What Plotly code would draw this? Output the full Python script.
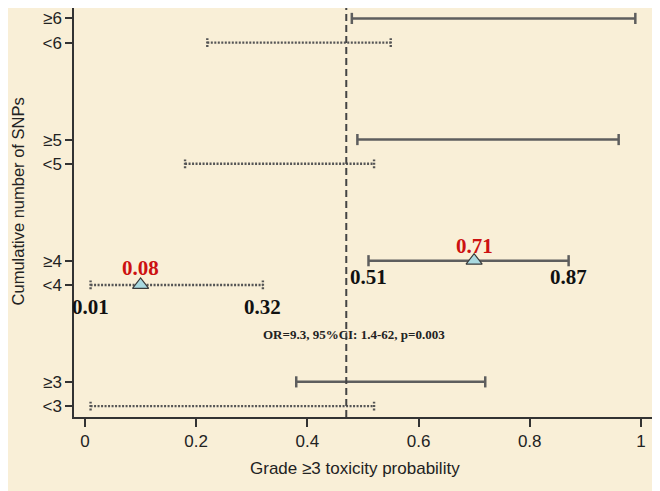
import plotly.graph_objects as go

# ---- data ----
groups = ["≥6", "<6", "≥5", "<5", "≥4", "<4", "≥3", "<3"]
ypos = [17, 16, 12, 11, 7, 6, 2, 1]
lower = [0.48, 0.22, 0.49, 0.18, 0.51, 0.01, 0.38, 0.01]
upper = [0.99, 0.55, 0.96, 0.52, 0.87, 0.32, 0.72, 0.52]

point_groups = ["≥4", "<4"]
point_est = [0.70, 0.10]
point_labels = ["0.71", "0.08"]
ci_label_groups = ["≥4", "<4"]
ci_lo_labels = ["0.51", "0.01"]
ci_hi_labels = ["0.87", "0.32"]

overall_rate = 0.47
stat_text = "OR=9.3, 95%CI: 1.4-62, p=0.003"
stat_x, stat_y = 0.484, 3.96

x_ticks = [0, 0.2, 0.4, 0.6, 0.8, 1]
x_ticklabels = ["0", "0.2", "0.4", "0.6", "0.8", "1"]

BG = "#f9efd7"
SANS = "Liberation Sans, Arial, sans-serif"
SERIF = "Liberation Serif, Times New Roman, serif"


def segments(sel, cap):
    xs, ys = [], []
    for g, y, lo, hi in zip(groups, ypos, lower, upper):
        if not sel(g):
            continue
        xs += [lo, hi, None, lo, lo, None, hi, hi, None]
        ys += [y, y, None, y - cap, y + cap, None, y - cap, y + cap, None]
    return xs, ys


fig = go.Figure()

sx, sy = segments(lambda g: g.startswith("≥"), 0.23)
fig.add_trace(go.Scatter(x=sx, y=sy, mode="lines",
                         line=dict(color="#5e5e5e", width=2.5),
                         hoverinfo="skip", showlegend=False))

dx, dy = segments(lambda g: g.startswith("<"), 0.18)
fig.add_trace(go.Scatter(x=dx, y=dy, mode="lines",
                         line=dict(color="#555555", width=2.4, dash="2px,1.5px"),
                         hoverinfo="skip", showlegend=False))

py = [ypos[groups.index(g)] for g in point_groups]
fig.add_trace(go.Scatter(x=point_est, y=py, mode="markers",
                         marker=dict(symbol="triangle-up", size=14, color="#a9d9e0",
                                     line=dict(color="#3a3a3a", width=1.2)),
                         hoverinfo="skip", showlegend=False))

fig.add_shape(type="line", x0=overall_rate, x1=overall_rate, xref="x",
              y0=0, y1=1, yref="paper",
              line=dict(color="#444444", width=2, dash="7px,4px"))

annotations = []
for g, x, lab, ys in zip(point_groups, point_est, point_labels, [15, 17]):
    annotations.append(dict(x=x, y=ypos[groups.index(g)], xref="x", yref="y",
                            text="<b>" + lab + "</b>", showarrow=False, yshift=ys,
                            font=dict(family=SERIF, size=21, color="#cc1111")))
for g, lo_t, hi_t, ys in zip(ci_label_groups, ci_lo_labels, ci_hi_labels, [-16, -22]):
    i = groups.index(g)
    for xv, t in [(lower[i], lo_t), (upper[i], hi_t)]:
        annotations.append(dict(x=xv, y=ypos[i], xref="x", yref="y",
                                text="<b>" + t + "</b>", showarrow=False, yshift=ys,
                                font=dict(family=SERIF, size=21, color="#111111")))
annotations.append(dict(x=stat_x, y=stat_y, xref="x", yref="y",
                        text="<b>" + stat_text + "</b>", showarrow=False,
                        font=dict(family=SERIF, size=13, color="#222222")))
# axis titles
annotations.append(dict(x=0, y=0.527, xref="paper", yref="paper", xshift=-56,
                        text="Cumulative number of SNPs", textangle=-90,
                        showarrow=False, xanchor="center", yanchor="middle",
                        font=dict(family=SANS, size=16.5, color="#222222")))
annotations.append(dict(x=0.486, y=0, xref="paper", yref="paper", yshift=-51,
                        text="Grade ≥3 toxicity probability",
                        showarrow=False, xanchor="center", yanchor="middle",
                        font=dict(family=SANS, size=17, color="#222222")))

# page has an 8px body margin: size and margins compensate for it
fig.update_layout(
    width=652, height=483,
    margin=dict(l=66, r=8, t=0, b=74),
    paper_bgcolor=BG, plot_bgcolor=BG,
    annotations=annotations,
    xaxis=dict(range=[-0.0198, 1.02], tickvals=x_ticks, ticktext=x_ticklabels,
               showgrid=False, zeroline=False, showline=True, linecolor="#333333",
               linewidth=1.5, ticks="outside", ticklen=8, tickwidth=1.5,
               tickcolor="#333333",
               tickfont=dict(family=SANS, size=17, color="#222222")),
    yaxis=dict(range=[0.55, 17.43], tickvals=ypos, ticktext=groups,
               showgrid=False, zeroline=False, showline=True, linecolor="#333333",
               linewidth=1.5, ticks="outside", ticklen=7, tickwidth=1.5,
               tickcolor="#333333",
               tickfont=dict(family=SANS, size=17, color="#222222")),
)

fig.write_html("out.html")
